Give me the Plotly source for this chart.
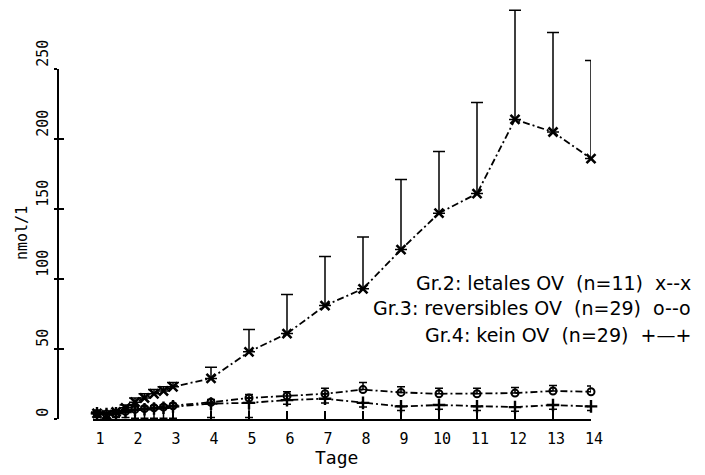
import plotly.graph_objects as go

# ---- data ----
days = [1, 1.25, 1.5, 1.75, 2, 2.25, 2.5, 2.75, 3, 4, 5, 6, 7, 8, 9, 10, 11, 12, 13, 14]

gr2_mean = [4, 3, 5, 8, 12, 15, 18, 20, 23, 29, 48, 61, 81, 93, 121, 147, 161, 214, 205, 186]
gr2_sd_up = [1, 1, 1, 2, 3, 3, 3, 3, 3, 8, 16, 28, 35, 37, 50, 44, 65, 78, 71, 70]

gr3_mean = [4, 3.5, 4, 5.5, 7, 7.5, 8, 8.5, 9.5, 12, 15, 16.5, 18, 21, 19, 18, 18, 18.5, 20, 19.5]
gr3_sd_up = [1, 1, 1, 1, 1.5, 1.5, 1.5, 1.5, 1.5, 2, 2.5, 3, 4, 5, 4, 4, 4, 4, 4, 4]

gr4_mean = [4, 3.5, 4, 5, 6.5, 7, 7.5, 8, 9, 11, 11.5, 13.5, 14.5, 11.5, 9, 10, 9, 8.5, 10, 9]
gr4_sd_down = [3, 3, 3, 4, 6, 6.5, 7, 7.5, 8.5, 10, 10.5, 3, 3, 3, 3, 3, 3, 3, 3, 3]

x_ticks = list(range(1, 15))
y_ticks = [0, 50, 100, 150, 200, 250]
legend_texts = [
    "Gr.2: letales OV\u00a0\u00a0(n=11)\u00a0\u00a0x--x",
    "Gr.3: reversibles OV\u00a0\u00a0(n=29)\u00a0\u00a0o--o",
    "Gr.4: kein OV\u00a0\u00a0(n=29)\u00a0\u00a0+\u2014+",
]
x_title = "Tage"
y_title = "nmol/1"

# ---- geometry ----
W, H = 705, 475
ML, MR, MT, MB = 58, 114, 6, 56
PW = W - ML - MR
PH = H - MT - MB
px_per_day = 38.0
y_top = PH / 1.4
x_max = 14
x_min_main = x_max - PW / px_per_day
x2_start_px = 93 - ML
x2_dom0 = x2_start_px / PW
x_min_axis = x_max - (PW - x2_start_px) / px_per_day
y2_dom1 = 250 / y_top

MONO = "DejaVu Sans Mono"
dash = "7px,3px,2px,3px"

fig = go.Figure()

fig.add_trace(go.Scatter(
    x=days, y=gr2_mean, mode="lines+markers", name="Gr.2",
    line=dict(color="black", width=1.8, dash=dash),
    marker=dict(symbol="x-thin-open", size=9, line=dict(color="black", width=2.6)),
    error_y=dict(type="data", symmetric=False, array=gr2_sd_up, arrayminus=[0] * len(days),
                 color="black", thickness=1.5, width=6),
    showlegend=False, cliponaxis=False,
))
fig.add_trace(go.Scatter(
    x=days, y=gr3_mean, mode="lines+markers", name="Gr.3",
    line=dict(color="black", width=1.8, dash=dash),
    marker=dict(symbol="circle-open", size=7, line=dict(color="black", width=2)),
    error_y=dict(type="data", symmetric=False, array=gr3_sd_up, arrayminus=[0] * len(days),
                 color="black", thickness=1.5, width=4),
    showlegend=False, cliponaxis=False,
))
fig.add_trace(go.Scatter(
    x=days, y=gr4_mean, mode="lines+markers", name="Gr.4",
    line=dict(color="black", width=1.8, dash=dash),
    marker=dict(symbol="cross-thin-open", size=9, line=dict(color="black", width=2.4)),
    error_y=dict(type="data", symmetric=False, array=[0] * len(days), arrayminus=gr4_sd_down,
                 color="black", thickness=1.5, width=4),
    showlegend=False, cliponaxis=False,
))

# dummy traces to hold the visible axes
fig.add_trace(go.Scatter(x=[None], y=[None], xaxis="x2", yaxis="y2", showlegend=False, hoverinfo="skip"))
fig.add_trace(go.Scatter(x=[None], y=[None], xaxis="x2", yaxis="y3", showlegend=False, hoverinfo="skip"))

pad = "\u2007"
y_ticktext = [pad * len(str(v)) + str(v) for v in y_ticks]

fig.update_layout(
    width=W, height=H, autosize=False,
    margin=dict(l=ML, r=MR, t=MT, b=MB, pad=0, autoexpand=False),
    paper_bgcolor="white", plot_bgcolor="rgba(0,0,0,0)",
    xaxis=dict(domain=[0, 1], range=[x_min_main, x_max], visible=False, anchor="y", automargin=False),
    yaxis=dict(domain=[0, 1], range=[0, y_top], visible=False, anchor="x", automargin=False),
    xaxis2=dict(domain=[x2_dom0, 1], range=[x_min_axis, x_max], anchor="y2", automargin=False,
                showline=True, linecolor="black", linewidth=2,
                ticks="inside", ticklen=8, tickwidth=1.5, tickcolor="black",
                tickvals=x_ticks, ticktext=[str(v) for v in x_ticks],
                tickfont=dict(family=MONO, size=15, color="black"),
                ticklabelshift=3, ticklabelstandoff=5, showgrid=False, zeroline=False),
    yaxis2=dict(domain=[0, y2_dom1], range=[0, 250], anchor="free", position=0, automargin=False,
                showline=True, linecolor="black", linewidth=1.6,
                ticks="outside", ticklen=3, tickwidth=1.5, tickcolor="black",
                tickvals=y_ticks, ticktext=y_ticktext, tickangle=-90,
                tickfont=dict(family=MONO, size=15, color="black"),
                showgrid=False, zeroline=False),
    yaxis3=dict(domain=[0, y2_dom1], range=[0, 250], anchor="free", position=0, automargin=False,
                showline=False, ticks="inside", ticklen=5, tickwidth=1.5, tickcolor="black",
                tickvals=y_ticks, showticklabels=False, showgrid=False, zeroline=False),
)

annots = [
    dict(text=y_title, x=(22 - ML) / PW, y=(PH + MT - 233) / PH, textangle=-90,
         font=dict(family=MONO, size=15, color="black")),
    dict(text=x_title, x=(336 - ML) / PW, y=(PH + MT - 457) / PH,
         font=dict(family=MONO, size=18, color="black")),
]
for txt, yc in zip(legend_texts, [283, 308, 335]):
    annots.append(dict(text=txt, x=(693 - ML) / PW, y=(PH + MT - yc) / PH, xanchor="right",
                       font=dict(family="DejaVu Sans", size=19, color="black")))
for a in annots:
    a.update(xref="paper", yref="paper", showarrow=False, yanchor="middle",
             xanchor=a.get("xanchor", "center"))
fig.update_layout(annotations=annots)

fig.write_html("out.html", config={"displayModeBar": False},
               post_script="document.body.style.margin='0px';")
